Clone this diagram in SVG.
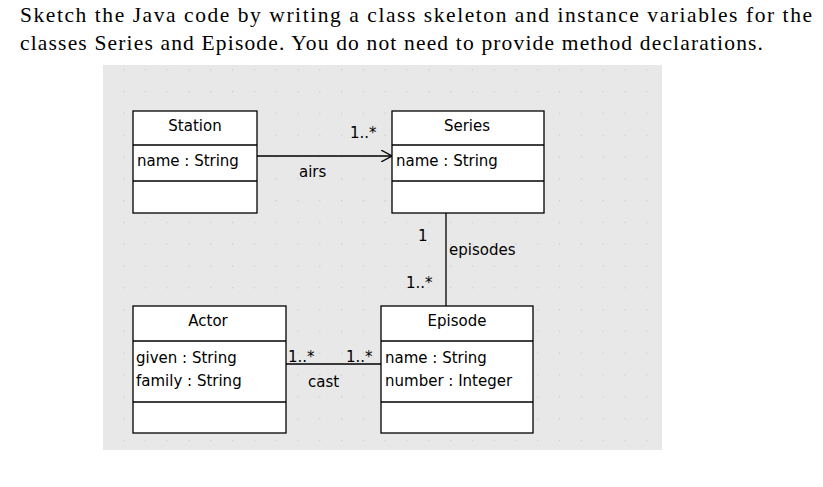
<svg xmlns="http://www.w3.org/2000/svg" width="823" height="487" viewBox="0 0 823 487">
<defs>
<pattern id="dots" x="123" y="91" width="21.8" height="21.8" patternUnits="userSpaceOnUse"><rect x="0" y="0" width="1.2" height="1.2" fill="#c8c8c8"/></pattern>
<marker id="open" viewBox="0 0 12 12" refX="11" refY="6" markerWidth="12" markerHeight="12" markerUnits="userSpaceOnUse" orient="auto"><path d="M0,0 L11,6 L0,12" fill="none" stroke="#000" stroke-width="1.3"/></marker>
</defs>
<style>
.hd{font-family:"Liberation Serif",serif;font-size:21.5px;fill:#000}
.t{font-family:"DejaVu Sans",sans-serif;font-size:15px;fill:#000}
.box{fill:#fff;stroke:#000;stroke-width:1.3}
.ln{stroke:#000;stroke-width:1.3;fill:none}
</style>
<rect width="823" height="487" fill="#fff"/>
<text class="hd" x="20" y="22" textLength="792" lengthAdjust="spacing">Sketch the Java code by writing a class skeleton and instance variables for the</text>
<text class="hd" x="20" y="50" textLength="743" lengthAdjust="spacing">classes Series and Episode.  You do not need to provide method declarations.</text>
<rect x="103" y="65" width="559" height="385" fill="#e8e8e8"/>
<rect x="103" y="65" width="559" height="385" fill="url(#dots)"/>
<g id="connectors">
<line class="ln" x1="257" y1="156" x2="392" y2="156" marker-end="url(#open)"/>
<text class="t" x="350" y="138">1..*</text>
<text class="t" x="299" y="177">airs</text>
<line class="ln" x1="446" y1="213" x2="446" y2="306"/>
<text class="t" x="418" y="241">1</text>
<text class="t" x="449" y="255">episodes</text>
<text class="t" x="406" y="288">1..*</text>
<line class="ln" x1="284" y1="364" x2="381" y2="364"/>
<text class="t" x="288" y="362">1..*</text>
<text class="t" x="346" y="362">1..*</text>
<text class="t" x="308" y="387">cast</text>
</g>
<g id="station">
<rect class="box" x="133" y="111" width="124" height="102"/>
<line class="ln" x1="133" y1="145" x2="257" y2="145"/><line class="ln" x1="133" y1="181" x2="257" y2="181"/>
<text class="t" x="195" y="131" text-anchor="middle">Station</text>
<text class="t" x="137" y="166">name : String</text>
</g>
<g id="series">
<rect class="box" x="392" y="111" width="152" height="102"/>
<line class="ln" x1="392" y1="145" x2="544" y2="145"/><line class="ln" x1="392" y1="181" x2="544" y2="181"/>
<text class="t" x="467" y="131" text-anchor="middle">Series</text>
<text class="t" x="396" y="166">name : String</text>
</g>
<g id="actor">
<rect class="box" x="133" y="306" width="153" height="127"/>
<line class="ln" x1="133" y1="341" x2="286" y2="341"/><line class="ln" x1="133" y1="402" x2="286" y2="402"/>
<text class="t" x="208" y="326" text-anchor="middle">Actor</text>
<text class="t" x="136" y="363">given : String</text>
<text class="t" x="136" y="386">family : String</text>
</g>
<g id="episode">
<rect class="box" x="381" y="306" width="152" height="127"/>
<line class="ln" x1="381" y1="341" x2="533" y2="341"/><line class="ln" x1="381" y1="402" x2="533" y2="402"/>
<text class="t" x="457" y="326" text-anchor="middle">Episode</text>
<text class="t" x="385" y="363">name : String</text>
<text class="t" x="385" y="386">number : Integer</text>
</g>
</svg>
